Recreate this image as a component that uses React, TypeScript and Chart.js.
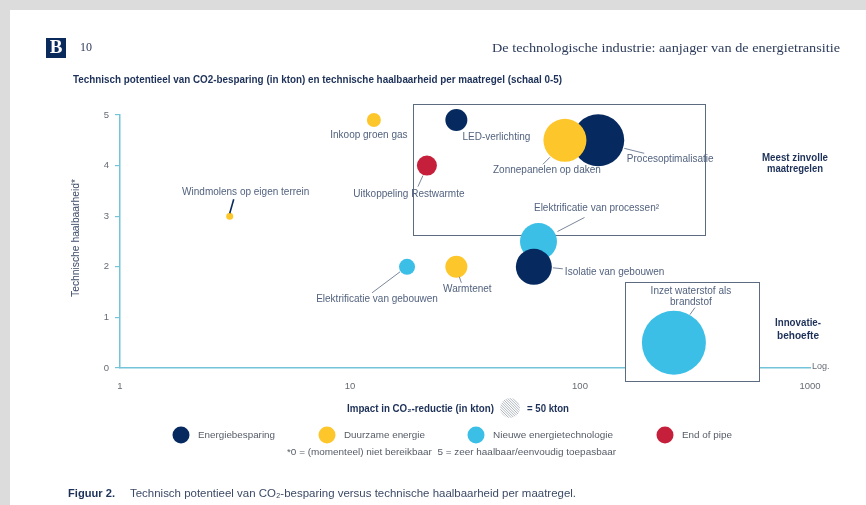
import React, { useEffect, useRef } from "react";
import { Chart, registerables } from "chart.js";

Chart.register(...registerables);

// ---------- data ----------
const categories = ["Energiebesparing", "Duurzame energie", "Nieuwe energietechnologie", "End of pipe"];
const categoryColors = ["#062a5f", "#fdc72c", "#3bbfe7", "#c51f3b"];

const measures = [
  "Inkoop groen gas",
  "LED-verlichting",
  "Uitkoppeling Restwarmte",
  "Zonnepanelen op daken",
  "Procesoptimalisatie",
  "Elektrificatie van processen²",
  "Isolatie van gebouwen",
  "Warmtenet",
  "Elektrificatie van gebouwen",
  "Inzet waterstof als brandstof",
  "Windmolens op eigen terrein",
];
const impactKton = [12.7, 29, 21.6, 86, 120, 66, 63, 29, 17.7, 256, 3];
const feasibility = [4.9, 4.9, 4.0, 4.5, 4.5, 2.5, 2.0, 2.0, 2.0, 0.5, 3.0];
const bubbleRadius = [7, 11, 10, 21.5, 26, 18.5, 18, 11, 8, 32, 3.5];
const measureCategory = [1, 0, 3, 1, 0, 2, 0, 1, 2, 2, 1];

const xTicks = [1, 10, 100, 1000];
const yTicks = [0, 1, 2, 3, 4, 5];

// highlight boxes in data coordinates [xMin, xMax, yMax, yMin]
const topBox = [18.8, 349, 5.22, 2.63];
const bottomBox = [157, 600, 1.7, -0.26];

// ---------- layout of labels (pixel offsets from bubble centre) ----------
type LabelLayout = { lines: string[]; dx: number; dy: number; align: CanvasTextAlign; leader?: number[]; dark?: boolean };
const labelLayout: LabelLayout[] = [
  { lines: ["Inkoop groen gas"], dx: -5, dy: 15, align: "center" },
  { lines: ["LED-verlichting"], dx: 40, dy: 17, align: "center" },
  { lines: ["Uitkoppeling Restwarmte"], dx: -18, dy: 29, align: "center", leader: [-4, 10, -9, 21] },
  { lines: ["Zonnepanelen op daken"], dx: -18, dy: 30, align: "center", leader: [-15, 17, -22, 24] },
  { lines: ["Procesoptimalisatie"], dx: 72, dy: 19, align: "center", leader: [26, 8, 46, 13] },
  { lines: ["Elektrificatie van processen²"], dx: 58, dy: -33, align: "center", leader: [19, -10, 46, -24] },
  { lines: ["Isolatie van gebouwen"], dx: 31, dy: 5, align: "left", leader: [19, 1, 29, 2] },
  { lines: ["Warmtenet"], dx: 11, dy: 22, align: "center", leader: [3, 10, 5, 16] },
  { lines: ["Elektrificatie van gebouwen"], dx: -30, dy: 32, align: "center", leader: [-7, 5, -35, 26] },
  { lines: ["Inzet waterstof als", "brandstof"], dx: 17, dy: -51, align: "center", leader: [16, -28, 21, -35] },
  { lines: ["Windmolens op eigen terrein"], dx: 16, dy: -24, align: "center", leader: [0, -3, 4, -17], dark: true },
];

const drawOrder = [1, 0, 2, 3]; // yellow on top, then navy, then light blue

const AXIS = "#74c4d9";
const NAVY_TEXT = "#1d3158";
const LABEL = "#52627e";
const GREY = "#666b73";

function txt(
  ctx: CanvasRenderingContext2D,
  text: string,
  x: number,
  y: number,
  font: string,
  color: string,
  align: CanvasTextAlign = "left",
  width?: number
) {
  ctx.save();
  ctx.font = font;
  ctx.fillStyle = color;
  ctx.textBaseline = "middle";
  const w = ctx.measureText(text).width;
  const s = width ? width / w : 1;
  const ww = w * s;
  const left = align === "center" ? x - ww / 2 : align === "right" ? x - ww : x;
  ctx.translate(left, y);
  ctx.scale(s, 1);
  ctx.textAlign = "left";
  ctx.fillText(text, 0, 0);
  ctx.restore();
}

const decorPlugin = {
  id: "decor",
  beforeDraw(chart: any) {
    const ctx: CanvasRenderingContext2D = chart.ctx;
    ctx.save();
    ctx.fillStyle = "#ffffff";
    ctx.fillRect(0, 0, chart.width, chart.height);
    ctx.fillStyle = "#dcdcdc";
    ctx.fillRect(0, 0, chart.width, 10);
    ctx.fillRect(0, 0, 10, chart.height);
    ctx.restore();

    // header
    ctx.save();
    ctx.fillStyle = "#0b2a5c";
    ctx.fillRect(46, 38, 20, 20);
    ctx.restore();
    txt(ctx, "B", 56, 48.5, "bold 19px 'Liberation Serif'", "#ffffff", "center");
    txt(ctx, "10", 80, 48, "12px 'Liberation Serif'", "#2d3c5a", "left");
    txt(ctx, "De technologische industrie: aanjager van de energietransitie", 840, 48, "13.5px 'Liberation Serif'", "#2d3c5a", "right", 348);
    txt(
      ctx,
      "Technisch potentieel van CO2-besparing (in kton) en technische haalbaarheid per maatregel (schaal 0-5)",
      73,
      80,
      "bold 10px 'Liberation Sans'",
      NAVY_TEXT,
      "left",
      489
    );
  },
  beforeDatasetsDraw(chart: any) {
    const ctx: CanvasRenderingContext2D = chart.ctx;
    const xs = chart.scales.x;
    const ys = chart.scales.y;
    [topBox, bottomBox].forEach((b) => {
      const x1 = Math.round(xs.getPixelForValue(b[0])) + 0.5;
      const x2 = Math.round(xs.getPixelForValue(b[1])) + 0.5;
      const y1 = Math.round(ys.getPixelForValue(b[2])) + 0.5;
      const y2 = Math.round(ys.getPixelForValue(b[3])) + 0.5;
      ctx.save();
      ctx.fillStyle = "#ffffff";
      ctx.fillRect(x1, y1, x2 - x1, y2 - y1);
      ctx.strokeStyle = "#5d6b80";
      ctx.lineWidth = 1;
      ctx.strokeRect(x1, y1, x2 - x1, y2 - y1);
      ctx.restore();
    });
  },
  afterDatasetsDraw(chart: any) {
    const ctx: CanvasRenderingContext2D = chart.ctx;
    const xs = chart.scales.x;
    const ys = chart.scales.y;
    measures.forEach((_, i) => {
      const cx = xs.getPixelForValue(impactKton[i]);
      const cy = ys.getPixelForValue(feasibility[i]);
      const L = labelLayout[i];
      if (L.leader) {
        ctx.save();
        ctx.strokeStyle = L.dark ? "#0b2a5c" : "#6b7990";
        ctx.lineWidth = L.dark ? 1.6 : 0.9;
        ctx.beginPath();
        ctx.moveTo(cx + L.leader[0], cy + L.leader[1]);
        ctx.lineTo(cx + L.leader[2], cy + L.leader[3]);
        ctx.stroke();
        ctx.restore();
      }
      L.lines.forEach((line, k) => {
        txt(ctx, line, cx + L.dx, cy + L.dy + k * 11, "10px 'Liberation Sans'", LABEL, L.align);
      });
    });
  },
  afterDraw(chart: any) {
    const ctx: CanvasRenderingContext2D = chart.ctx;
    const area = chart.chartArea;
    txt(ctx, "Log.", area.right + 2, area.bottom - 1, "9px 'Liberation Sans'", GREY, "left");

    // y-axis title
    ctx.save();
    ctx.translate(76, 238);
    ctx.rotate(-Math.PI / 2);
    txt(ctx, "Technische haalbaarheid*", 0, 0, "10px 'Liberation Sans'", "#3e4c6a", "center", 118);
    ctx.restore();

    // side annotations
    txt(ctx, "Meest zinvolle", 795, 158, "bold 10px 'Liberation Sans'", NAVY_TEXT, "center", 66);
    txt(ctx, "maatregelen", 795, 169.5, "bold 10px 'Liberation Sans'", NAVY_TEXT, "center", 56);
    txt(ctx, "Innovatie-", 798, 323, "bold 10px 'Liberation Sans'", NAVY_TEXT, "center", 46);
    txt(ctx, "behoefte", 798, 336, "bold 10px 'Liberation Sans'", NAVY_TEXT, "center", 42);

    // size key
    txt(ctx, "Impact in CO₂-reductie (in kton)", 347, 409, "bold 10px 'Liberation Sans'", NAVY_TEXT, "left", 147);
    ctx.save();
    ctx.beginPath();
    ctx.arc(510, 408, 10, 0, Math.PI * 2);
    ctx.clip();
    ctx.strokeStyle = "#9aa3ad";
    ctx.lineWidth = 0.8;
    for (let k = -24; k <= 24; k += 2.6) {
      ctx.beginPath();
      ctx.moveTo(510 + k - 12, 408 - 12);
      ctx.lineTo(510 + k + 12, 408 + 12);
      ctx.stroke();
    }
    ctx.restore();
    txt(ctx, "= 50 kton", 527, 409, "bold 10px 'Liberation Sans'", NAVY_TEXT, "left", 42);

    // legend
    const legX = [181, 327, 476, 665];
    const legW = [77, 81, 120, 50];
    categories.forEach((c, i) => {
      ctx.save();
      ctx.fillStyle = categoryColors[i];
      ctx.beginPath();
      ctx.arc(legX[i], 435, 8.5, 0, Math.PI * 2);
      ctx.fill();
      ctx.restore();
      txt(ctx, c, legX[i] + 17, 435, "9.5px 'Liberation Sans'", "#555b66", "left", legW[i]);
    });

    txt(
      ctx,
      "*0 = (momenteel) niet bereikbaar  5 = zeer haalbaar/eenvoudig toepasbaar",
      287,
      453,
      "9px 'Liberation Sans'",
      "#555b66",
      "left",
      329
    );

    txt(ctx, "Figuur 2.", 68, 494, "bold 11px 'Liberation Sans'", NAVY_TEXT, "left", 47);
    txt(
      ctx,
      "Technisch potentieel van CO₂-besparing versus technische haalbaarheid per maatregel.",
      130,
      494,
      "11px 'Liberation Sans'",
      "#3c4a66",
      "left",
      446
    );
  },
};

export default function App() {
  const ref = useRef<HTMLCanvasElement | null>(null);
  useEffect(() => {
    if (!ref.current) return;
    const datasets = drawOrder.map((ci, order) => ({
      label: categories[ci],
      data: measures
        .map((m, i) => ({ x: impactKton[i], y: feasibility[i], r: bubbleRadius[i], cat: measureCategory[i] }))
        .filter((p) => p.cat === ci),
      backgroundColor: categoryColors[ci],
      borderWidth: 0,
      hoverRadius: 0,
      clip: false as any,
      order,
    }));
    const chart = new Chart(ref.current, {
      type: "bubble",
      data: { datasets },
      options: {
        animation: false,
        responsive: true,
        maintainAspectRatio: false,
        events: [],
        layout: { padding: { left: 0, right: 56, top: 115, bottom: 0 } },
        plugins: { legend: { display: false }, tooltip: { enabled: false } },
        scales: {
          x: {
            type: "logarithmic",
            min: 1,
            max: 1000,
            afterBuildTicks: (s: any) => {
              s.ticks = xTicks.map((v) => ({ value: v }));
            },
            afterFit: (s: any) => {
              s.height = 137;
            },
            ticks: {
              autoSkip: false,
              maxRotation: 0,
              padding: 5,
              color: GREY,
              font: { family: "'Liberation Sans'", size: 9.5 },
              callback: (v: any) => String(v),
            },
            grid: { display: false },
            border: { color: AXIS, width: 1.5 },
          },
          y: {
            type: "linear",
            min: 0,
            max: 5,
            afterBuildTicks: (s: any) => {
              s.ticks = yTicks.map((v) => ({ value: v }));
            },
            afterFit: (s: any) => {
              s.width = 120;
            },
            ticks: {
              padding: 6,
              color: GREY,
              font: { family: "'Liberation Sans'", size: 9.5 },
            },
            grid: { drawOnChartArea: false, tickLength: 5, color: AXIS, lineWidth: 1.2 },
            border: { color: AXIS, width: 1.5 },
          },
        },
      },
      plugins: [decorPlugin],
    });
    return () => chart.destroy();
  }, []);

  return (
    <div style={{ position: "fixed", left: 0, top: 0, width: 866, height: 505 }}>
      <canvas ref={ref} />
    </div>
  );
}
